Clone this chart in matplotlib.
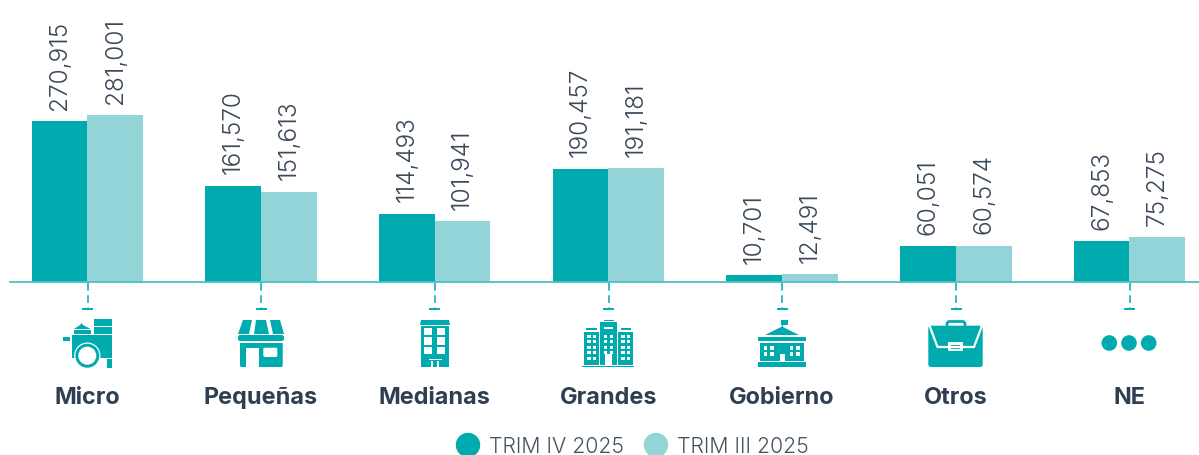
import matplotlib
matplotlib.use("Agg")
import matplotlib.pyplot as plt
from matplotlib.patches import Rectangle, Circle, Polygon, FancyBboxPatch
import numpy as np

categories = ["Micro", "Pequeñas", "Medianas", "Grandes", "Gobierno", "Otros", "NE"]
trim_iv = [270915, 161570, 114493, 190457, 10701, 60051, 67853]
trim_iii = [281001, 151613, 101941, 191181, 12491, 60574, 75275]
series_names = ["TRIM IV 2025", "TRIM III 2025"]

TEAL = "#00ABB0"
LIGHT = "#92D4D8"
AXIS = "#4DBFC3"
INK = "#2F3E50"
W = 1199
H = 456
FONT = ["Inter", "DejaVu Sans"]
plt.rcParams["font.family"] = FONT

fig = plt.figure(figsize=(W / 100, H / 100), dpi=100, facecolor="white")

# bars axes: left/right = axis line extents, bottom = baseline
BASE = 282.6
ax = fig.add_axes([10 / W, (H - BASE) / H, (W - 10) / W, BASE / H])
step = 173.7
ax.set_xlim((10 - 87.3) / step, (W - 87.3) / step)
ax.set_ylim(0, BASE / 0.000592)
x = np.arange(len(categories))
bw = 55.7 / step
b1 = ax.bar(x - bw / 2, trim_iv, bw, color=TEAL, zorder=2, label=series_names[0])
b2 = ax.bar(x + bw / 2, trim_iii, bw, color=LIGHT, zorder=2, label=series_names[1])
for bars in (b1, b2):
    for r in bars:
        ax.annotate(f"{int(r.get_height()):,}", (r.get_x() + r.get_width() / 2, r.get_height()),
                    xytext=(0, 9), textcoords="offset points", rotation=90, ha="center", va="bottom",
                    fontsize=17.6, color="#3A4858", fontweight=300, annotation_clip=False)
for s in ("top", "left", "right"):
    ax.spines[s].set_visible(False)
ax.spines["bottom"].set_color(AXIS)
ax.spines["bottom"].set_linewidth(1.3)
ax.set_yticks([])
ax.set_xticks(x)
ax.set_xticklabels(categories, fontsize=16.9, fontweight=700, color=INK)
ax.tick_params(axis="x", length=0, pad=75.5)
ax.patch.set_alpha(0)

# overlay in pixel coordinates for connectors, pictograms and legend
ov = fig.add_axes([0, 0, 1, 1], zorder=3)
ov.set_xlim(0, W)
ov.set_ylim(H, 0)
ov.axis("off")


def rect(x0, y0, x1, y1, c=TEAL, **k):
    ov.add_patch(Rectangle((x0, y0), x1 - x0, y1 - y0, fc=c, ec="none", **k))


def poly(pts, c=TEAL):
    ov.add_patch(Polygon(pts, closed=True, fc=c, ec="none"))


def rrect(x0, y0, x1, y1, r=1.5, c=TEAL, ec="none", lw=0):
    ov.add_patch(FancyBboxPatch((x0 + r, y0 + r), x1 - x0 - 2 * r, y1 - y0 - 2 * r,
                                boxstyle=f"round,pad={r},rounding_size={r}", fc=c, ec=ec, lw=lw))


for i in range(len(categories)):
    cx = 87.5 + step * i
    ov.plot([cx, cx], [284, 309], color=TEAL, lw=1.1, dashes=(5, 3))
    ov.plot([cx - 4.5, cx + 4.5], [310, 310], color=TEAL, lw=1.4)

# Micro: cart
rect(94, 320, 112, 327.3)
rect(94, 328.3, 112, 335)
rect(74, 331, 90.7, 335)
poly([(74, 330), (80, 326), (81.5, 324), (83, 326), (90.7, 330)])
rect(63, 338, 70, 342)
rect(71.7, 336, 112, 359)
ov.add_patch(Circle((87.3, 356.7), 13.2, fc="white", ec="none"))
ov.add_patch(Circle((87.3, 356.7), 12, fc=TEAL, ec="none"))
ov.add_patch(Circle((87.3, 356.7), 9, fc="white", ec="none"))
rect(107, 360, 112, 369)

# Pequeñas: shop
rrect(240, 340, 282.7, 368, 1.5)
rect(240, 341, 282.7, 344, "white")
rect(246, 348.7, 259.3, 368.5, "white")
rrect(263.3, 348.7, 277.3, 358, 1.5, "white")
poly([(243, 321), (252, 321), (249, 335), (238, 335)])
poly([(256, 321), (266, 321), (269, 335), (254, 335)])
poly([(270, 321), (280, 321), (284, 335), (273, 335)])
rrect(238, 336, 284, 342, 2.2)

# Medianas: building
poly([(421, 321), (449, 321), (450, 326), (420, 326)])
rect(421, 327, 449, 368)
for wx in (424.3, 437.3):
    for wy in (329, 338.3, 348):
        rect(wx, wy, wx + 8, wy + 7.2, "white")
rect(431, 362, 433, 368, "white")
rect(436.5, 362, 438.5, 368, "white")
rect(429, 359.5, 442, 360.5, "white")

# Grandes: towers
rect(600.3, 323, 616.7, 366)
rect(603.5, 320.5, 613.5, 322.3)
rect(585.5, 329, 596.5, 331)
rect(620.5, 329, 631, 331)
rect(584, 332.7, 599, 366)
rect(618, 332.7, 633, 366)
rect(582.3, 367, 634.3, 368.3)
rect(604, 327.5, 613, 330, "white")
for gx in (587, 592.5, 603.5, 609.5, 621, 626.5):
    for gy in (335.5, 341, 346.5, 352, 357.5):
        if gx in (603.5, 609.5) and gy > 352:
            continue
        rect(gx, gy, gx + 3.6, gy + 3.3, "white")
rect(604.5, 355, 612, 366, "white")

# Gobierno: public building
rect(781.5, 321, 782.5, 329)
poly([(781, 321), (788, 321), (788, 326), (781, 326)])
poly([(765, 336), (782, 327.5), (799, 336)])
rect(758, 337.5, 806, 342.3)
rect(760, 344, 804, 361.7)
rect(758, 363, 806, 368)
for gx in (763.5, 770, 789.5, 796):
    for gy in (347, 353):
        ov.add_patch(Rectangle((gx, gy), 3.6, 3.6, fc="white", ec="none"))
rect(779.5, 355, 785, 362, "white")

# Otros: briefcase
ov.add_patch(FancyBboxPatch((947, 322.5), 18, 9, boxstyle="round,pad=0,rounding_size=2.5",
                            fc="none", ec=TEAL, lw=2))
rrect(928.3, 326.7, 982.7, 368, 2.5)
ov.plot([930, 937.5, 974, 981.5], [328, 348, 348, 328], color="white", lw=1.6)
rrect(948, 343, 963, 352, 1, "white")
rect(951, 345.5, 960, 350, TEAL)

# NE: dots
for dx in (-19.7, 0, 19.7):
    ov.add_patch(Circle((1129 + dx, 344), 7.8, fc=TEAL, ec="none"))

# Legend
legend_x = [468, 656]
for lx, c, name in zip(legend_x, [TEAL, LIGHT], series_names):
    ov.add_patch(Circle((lx, 446), 12.2, fc=c, ec="none"))
    ov.text(lx + 21, 447, name, fontsize=15.3, color="#44525F", fontweight=300, ha="left", va="center")

fig.savefig("out.png", dpi=100, facecolor="white")
